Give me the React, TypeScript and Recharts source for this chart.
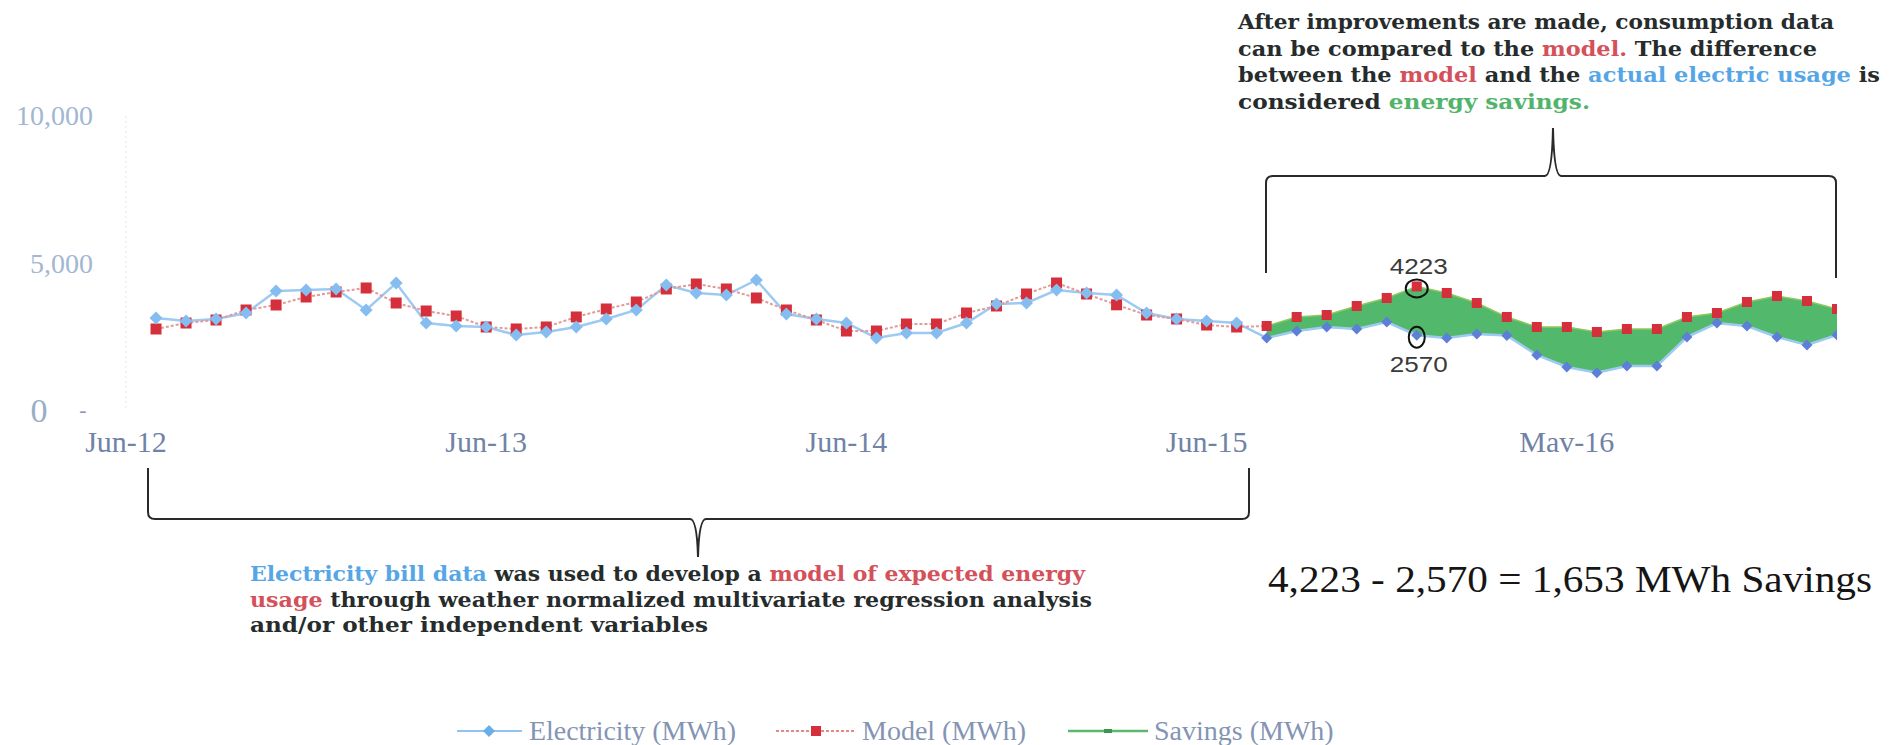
import React from 'react';
import { ComposedChart, Line, Area, XAxis, YAxis, ReferenceDot } from 'recharts';

const W = 1892;
const H = 745;

// month positions (1 = first billing month)
const monthIndex: number[] = Array.from({ length: 57 }, (_, i) => i + 1);

const electricity = [
  3153, 3051, 3119, 3322, 4068, 4102, 4136, 3424, 4339, 2983,
  2882, 2848, 2576, 2678, 2848, 3119, 3424, 4271, 4000, 3932,
  4441, 3288, 3119, 2983, 2475, 2644, 2644, 2983, 3627, 3661,
  4102, 4000, 3932, 3322, 3119, 3051, 2983, 2475, 2712, 2848,
  2780, 3017, 2570, 2475, 2610, 2560, 1898, 1492, 1300, 1525,
  1525, 2508, 2983, 2881, 2508, 2237, 2576,
];

const model = [
  2780, 2983, 3085, 3424, 3593, 3865, 4034, 4170, 3661, 3390,
  3220, 2848, 2780, 2848, 3187, 3458, 3695, 4136, 4305, 4136,
  3831, 3424, 3085, 2712, 2712, 2949, 2949, 3322, 3560, 3966,
  4339, 3966, 3600, 3254, 3119, 2915, 2848, 2882, 3187, 3254,
  3560, 3831, 4223, 4000, 3661, 3187, 2848, 2848, 2678, 2780,
  2780, 3187, 3322, 3695, 3898, 3729, 3458,
];

const savingsStart = 38;
const highlightMonth = 43;
const highlightModel = 4223;
const highlightElectricity = 2570;

const xTickValues = [0, 12, 24, 36, 48];
const xTickLabels = ['Jun-12', 'Jun-13', 'Jun-14', 'Jun-15', 'Mav-16'];
const yTickValues = [0, 5000, 10000];
const yTickLabels = ['0', '5,000', '10,000'];

const legendLabels = ['Electricity (MWh)', 'Model (MWh)', 'Savings (MWh)'];

const C_DARK = '#262b2c';
const C_RED = '#d4505a';
const C_BLUE = '#56a6e6';
const C_GREEN = '#52b46a';

type Seg = { t: string; c: string };
const topNote: Seg[][] = [
  [{ t: 'After improvements are made, consumption data', c: C_DARK }],
  [
    { t: 'can be compared to the ', c: C_DARK },
    { t: 'model.', c: C_RED },
    { t: ' The difference', c: C_DARK },
  ],
  [
    { t: 'between the ', c: C_DARK },
    { t: 'model', c: C_RED },
    { t: ' and the ', c: C_DARK },
    { t: 'actual electric usage', c: C_BLUE },
    { t: ' is', c: C_DARK },
  ],
  [
    { t: 'considered ', c: C_DARK },
    { t: 'energy savings.', c: C_GREEN },
  ],
];
const topNoteWidths = [596, 579, 642, 352];

const bottomNote: Seg[][] = [
  [
    { t: 'Electricity bill data', c: C_BLUE },
    { t: ' was used to develop a ', c: C_DARK },
    { t: 'model of expected energy', c: C_RED },
  ],
  [
    { t: 'usage', c: C_RED },
    { t: ' through weather normalized multivariate regression analysis', c: C_DARK },
  ],
  [{ t: 'and/or other independent variables', c: C_DARK }],
];
const bottomNoteWidths = [835, 842, 458];

const savingsFormula = '4,223 - 2,570 = 1,653 MWh Savings';

const data = monthIndex.map((m, i) => ({
  m,
  electricity: electricity[i],
  model: model[i],
  modelPre: m <= savingsStart ? model[i] : null,
  savings: m >= savingsStart ? [electricity[i], model[i]] : null,
}));

const XTick = (props: any) => {
  const { x, y, payload } = props;
  const idx = xTickValues.indexOf(payload.value);
  return (
    <text
      x={x}
      y={y + 41}
      textAnchor="middle"
      fontFamily="'Liberation Serif', 'Times New Roman', serif"
      fontSize={30}
      fill="#7082a6"
    >
      {xTickLabels[idx]}
    </text>
  );
};

const YTick = (props: any) => {
  const { x, y, payload } = props;
  const idx = yTickValues.indexOf(payload.value);
  if (payload.value === 0) {
    return (
      <g>
        <text x={x - 54} y={y + 11} textAnchor="middle" fontFamily="'Liberation Serif', serif" fontSize={34} fill="#98aec6">
          {yTickLabels[idx]}
        </text>
        <text x={x - 10} y={y + 6} textAnchor="middle" fontFamily="'Liberation Serif', serif" fontSize={22} fill="#8797ad">
          -
        </text>
      </g>
    );
  }
  return (
    <text x={x} y={y + 9} textAnchor="end" fontFamily="'Liberation Serif', serif" fontSize={28} fill="#a3b6d2">
      {yTickLabels[idx]}
    </text>
  );
};

const ModelDot = (props: any) => {
  const { cx, cy, index, payload } = props;
  if (cx == null || cy == null || payload == null) return <g key={`md-${index}`} />;
  const s = payload.m >= savingsStart ? 10 : 11;
  return <rect key={`md-${index}`} x={cx - s / 2} y={cy - s / 2} width={s} height={s} fill="#d52f3b" />;
};

const ElecDot = (props: any) => {
  const { cx, cy, index, payload } = props;
  if (cx == null || cy == null || payload == null) return <g key={`ed-${index}`} />;
  const post = payload.m >= savingsStart;
  const r = post ? 5.5 : 6.5;
  return (
    <path
      key={`ed-${index}`}
      d={`M${cx},${cy - r} L${cx + r},${cy} L${cx},${cy + r} L${cx - r},${cy} Z`}
      fill={post ? '#5d7fd8' : '#86bdf0'}
    />
  );
};

const HighlightMark = (label: string, rx: number, ry: number, labelDy: number) => (props: any) => {
  const { cx, cy } = props;
  if (cx == null || cy == null) return <g />;
  return (
    <g>
      <ellipse cx={cx} cy={cy + 2} rx={rx} ry={ry} fill="none" stroke="#111" strokeWidth={2} />
      <text
        x={cx + 2}
        y={cy + labelDy}
        textAnchor="middle"
        fontFamily="'Liberation Sans', Arial, sans-serif"
        fontSize={22}
        fill="#3a3a3a"
        textLength={58}
        lengthAdjust="spacingAndGlyphs"
      >
        {label}
      </text>
    </g>
  );
};

const NoteLines = ({ lines, widths, x, y0, dy, size }: { lines: Seg[][]; widths: number[]; x: number; y0: number; dy: number; size: number }) => (
  <g>
    {lines.map((segs, li) => (
      <text
        key={li}
        x={x}
        y={y0 + li * dy}
        fontFamily="'DejaVu Serif', serif"
        fontWeight="bold"
        fontSize={size}
        textLength={widths[li]}
        lengthAdjust="spacingAndGlyphs"
      >
        {segs.map((s, si) => (
          <tspan key={si} fill={s.c}>
            {s.t}
          </tspan>
        ))}
      </text>
    ))}
  </g>
);

const Overlay = () => (
  <svg width={W} height={H} style={{ position: 'absolute', left: 0, top: 0, pointerEvents: 'none' }}>
    {/* top brace */}
    <path
      d="M1266,273 L1266,183 Q1266,176 1273,176 L1545,176 Q1552,176 1553,128 Q1554,176 1561,176 L1829,176 Q1836,176 1836,183 L1836,278"
      fill="none"
      stroke="#2a2a2a"
      strokeWidth={2}
    />
    {/* bottom brace */}
    <path
      d="M148,468 L148,512 Q148,519 155,519 L690,519 Q697,519 698,557 Q699,519 706,519 L1242,519 Q1249,519 1249,512 L1249,468"
      fill="none"
      stroke="#2a2a2a"
      strokeWidth={2}
    />
    <NoteLines lines={topNote} widths={topNoteWidths} x={1238} y0={29} dy={26.5} size={21} />
    <NoteLines lines={bottomNote} widths={bottomNoteWidths} x={250} y0={581} dy={25.5} size={20} />
    <text
      x={1268}
      y={592}
      fontFamily="'Liberation Serif', 'Times New Roman', serif"
      fontSize={38}
      fill="#151515"
      textLength={604}
      lengthAdjust="spacingAndGlyphs"
    >
      {savingsFormula}
    </text>
    {/* legend */}
    <g fontFamily="'Liberation Serif', serif" fontSize={28} fill="#8494b4">
      <line x1={457} y1={731} x2={522} y2={731} stroke="#8fc3f2" strokeWidth={2} />
      <path d="M489,725 L495,731 L489,737 L483,731 Z" fill="#6aaee8" />
      <text x={529} y={740} textLength={207} lengthAdjust="spacingAndGlyphs">{legendLabels[0]}</text>
      <line x1={776} y1={731} x2={856} y2={731} stroke="#e28a8a" strokeWidth={2} strokeDasharray="3 2" />
      <rect x={811} y={726} width={10} height={10} fill="#d52f3b" />
      <text x={862} y={740}>{legendLabels[1]}</text>
      <line x1={1068} y1={731} x2={1148} y2={731} stroke="#5cb86e" strokeWidth={2.5} />
      <rect x={1104} y={729} width={8} height={4} fill="#3c9552" />
      <text x={1154} y={740}>{legendLabels[2]}</text>
    </g>
  </svg>
);

export default function App() {
  return (
    <div style={{ position: 'absolute', left: 0, top: 0, width: W, height: H, background: '#fff', overflow: 'hidden' }}>
      <ComposedChart width={W} height={H} data={data} margin={{ top: 116, right: 55, bottom: 274, left: 26 }}>
        <XAxis
          type="number"
          dataKey="m"
          domain={[0, 57]}
          ticks={xTickValues}
          interval={0}
          axisLine={false}
          tickLine={false}
          tickSize={0}
          tickMargin={0}
          height={60}
          tick={<XTick />}
          allowDataOverflow
        />
        <YAxis
          type="number"
          domain={[0, 10000]}
          ticks={yTickValues}
          interval={0}
          width={100}
          axisLine={{ stroke: '#e4e4e4', strokeDasharray: '2 3' }}
          tickLine={false}
          tickSize={0}
          tickMargin={33}
          tick={<YTick />}
        />
        <Line
          type="linear"
          dataKey="electricity"
          stroke="#9ccaf3"
          strokeWidth={2.5}
          dot={false}
          activeDot={false}
          isAnimationActive={false}
        />
        <Line
          type="linear"
          dataKey="modelPre"
          stroke="#e39a9a"
          strokeWidth={2}
          strokeDasharray="3 2"
          dot={false}
          activeDot={false}
          isAnimationActive={false}
        />
        <Area
          type="linear"
          dataKey="savings"
          fill="#52b86b"
          fillOpacity={1}
          stroke="#8ec85e"
          strokeWidth={1.5}
          activeDot={false}
          isAnimationActive={false}
        />
        <Line
          type="linear"
          dataKey="model"
          stroke="none"
          dot={(p: any) => <ModelDot {...p} key={`md-${p.index}`} />}
          activeDot={false}
          isAnimationActive={false}
        />
        <Line
          type="linear"
          dataKey="electricity"
          stroke="none"
          dot={(p: any) => <ElecDot {...p} key={`ed-${p.index}`} />}
          activeDot={false}
          isAnimationActive={false}
        />
        <ReferenceDot
          x={highlightMonth}
          y={highlightModel}
          r={11}
          shape={HighlightMark(String(highlightModel), 11, 9, -12)}
        />
        <ReferenceDot
          x={highlightMonth}
          y={highlightElectricity}
          r={10}
          shape={HighlightMark(String(highlightElectricity), 8, 10.5, 37)}
        />
      </ComposedChart>
      <Overlay />
    </div>
  );
}
